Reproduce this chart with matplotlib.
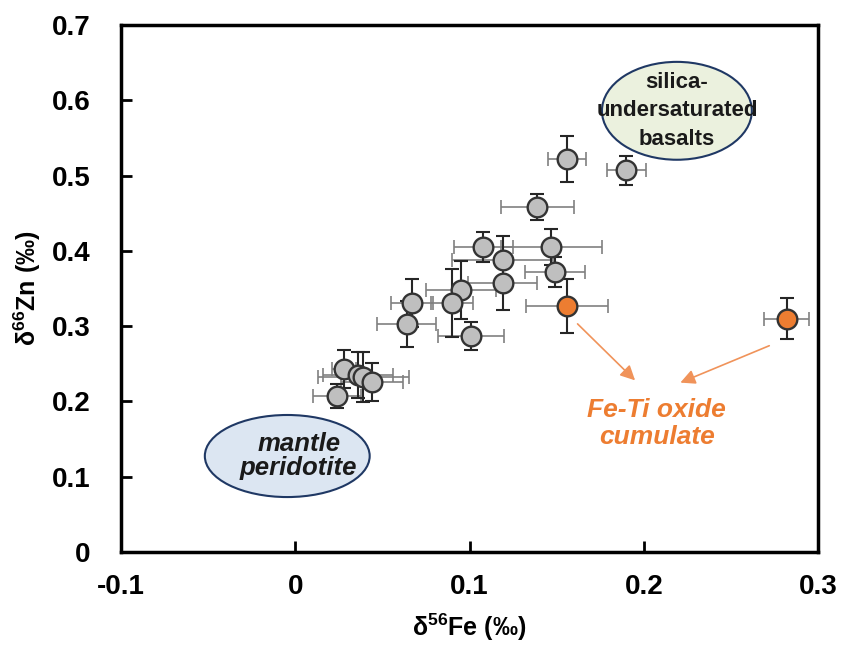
import numpy as np
import matplotlib.pyplot as plt
from matplotlib.patches import Ellipse

plt.rcParams['font.family'] = ['Liberation Sans', 'DejaVu Sans']
plt.rcParams['font.weight'] = 'bold'
plt.rcParams['mathtext.fontset'] = 'custom'
plt.rcParams['mathtext.bf'] = 'Liberation Sans:bold'
plt.rcParams['mathtext.rm'] = 'Liberation Sans:bold'
plt.rcParams['mathtext.default'] = 'bf'

# gray samples: d56Fe, d66Zn and their 2SD errors
fe_gray = [0.156, 0.190, 0.139, 0.147, 0.108, 0.119, 0.119, 0.149, 0.095, 0.090,
           0.067, 0.064, 0.101, 0.028, 0.036, 0.039, 0.044, 0.024]
zn_gray = [0.522, 0.507, 0.458, 0.405, 0.405, 0.388, 0.357, 0.372, 0.348, 0.331,
           0.331, 0.303, 0.287, 0.243, 0.235, 0.232, 0.226, 0.207]
fe_err_gray = [0.011, 0.011, 0.021, 0.029, 0.017, 0.029, 0.020, 0.017, 0.020, 0.012,
               0.012, 0.017, 0.019, 0.007, 0.020, 0.026, 0.018, 0.014]
zn_err_gray = [0.031, 0.019, 0.017, 0.024, 0.020, 0.032, 0.035, 0.020, 0.038, 0.045,
               0.032, 0.031, 0.019, 0.025, 0.030, 0.033, 0.025, 0.016]

# Fe-Ti oxide cumulates
fe_orange = [0.156, 0.282]
zn_orange = [0.327, 0.310]
fe_err_orange = [0.0235, 0.013]
zn_err_orange = [0.036, 0.027]

fig = plt.figure(figsize=(8.41, 6.47), dpi=100)
ax = fig.add_axes([0.1439, 0.1468, 0.8288, 0.8146])


def draw_points(x, y, xe, ye, face):
    ax.errorbar(x, y, xerr=xe, fmt='none', ecolor='#808080', elinewidth=1.2,
                capsize=5, capthick=1.2, zorder=2)
    ax.errorbar(x, y, yerr=ye, fmt='none', ecolor='#262626', elinewidth=1.5,
                capsize=5, capthick=1.5, zorder=2)
    ax.scatter(x, y, s=200, c=face, edgecolors='#333333', linewidths=1.7, zorder=3)


draw_points(fe_gray, zn_gray, fe_err_gray, zn_err_gray, '#bfbfbf')
draw_points(fe_orange, zn_orange, fe_err_orange, zn_err_orange, '#ed7d31')

# ellipses
ax.add_patch(Ellipse((-0.0046, 0.1275), 0.0946, 0.109, facecolor='#dce6f2',
                     edgecolor='#1f3864', linewidth=1.5, zorder=1))
ax.text(0.002, 0.1275, 'mantle\nperidotite', ha='center', va='center',
        fontsize=18.5, style='italic', fontweight='bold', color='#1a1a1a',
        linespacing=1.05, zorder=4)
ax.add_patch(Ellipse((0.219, 0.586), 0.086, 0.130, facecolor='#ebf1de',
                     edgecolor='#1f3864', linewidth=1.5, zorder=1))
ax.text(0.219, 0.586, 'silica-\nundersaturated\nbasalts', ha='center', va='center',
        fontsize=16, fontweight='bold', color='#1a1a1a', linespacing=1.45, zorder=4)

# Fe-Ti oxide label and arrows
ax.text(0.2075, 0.171, 'Fe-Ti oxide\ncumulate', ha='center', va='center',
        fontsize=19, style='italic', fontweight='bold', color='#ed7d31',
        linespacing=1.15, zorder=4)
ax.annotate('', xy=(0.195, 0.228), xytext=(0.162, 0.303),
            arrowprops=dict(arrowstyle='-|>', color='#f0935a', lw=1.2,
                            mutation_scale=22, shrinkA=0, shrinkB=0))
ax.annotate('', xy=(0.221, 0.225), xytext=(0.272, 0.274),
            arrowprops=dict(arrowstyle='-|>', color='#f0935a', lw=1.2,
                            mutation_scale=22, shrinkA=0, shrinkB=0))

ax.set_xlim(-0.1, 0.3)
ax.set_ylim(0, 0.7)
ax.set_xticks([-0.1, 0, 0.1, 0.2, 0.3])
ax.set_xticklabels(['-0.1', '0', '0.1', '0.2', '0.3'])
ax.set_yticks(np.arange(0, 0.71, 0.1))
ax.set_yticklabels(['0', '0.1', '0.2', '0.3', '0.4', '0.5', '0.6', '0.7'])
ax.tick_params(direction='in', length=8, width=2, labelsize=20)
ax.tick_params(axis='x', pad=16)
ax.tick_params(axis='y', pad=22)
for s in ax.spines.values():
    s.set_linewidth(2.5)

ax.set_xlabel('δ$^{56}$Fe (‰)', fontsize=18, fontweight='bold', labelpad=8)
ax.set_ylabel('δ$^{66}$Zn (‰)', fontsize=18, fontweight='bold', labelpad=6)

fig.savefig('out.png', dpi=100)
